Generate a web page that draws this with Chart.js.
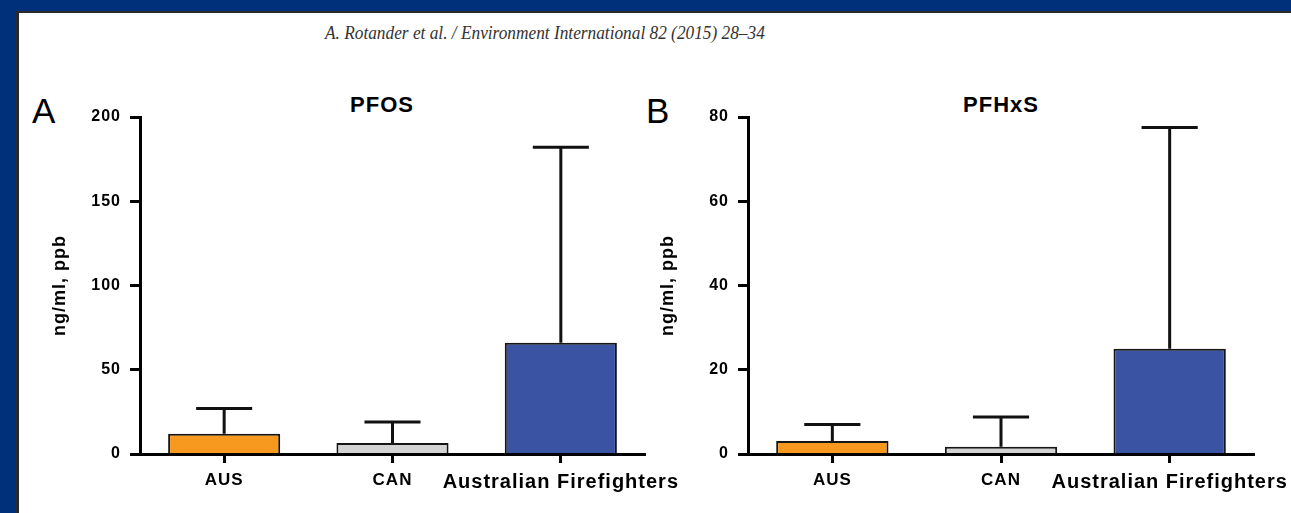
<!DOCTYPE html>
<html><head><meta charset="utf-8">
<script src="https://cdn.jsdelivr.net/npm/chart.js@4.4.1/dist/chart.umd.min.js"></script>
<style>
html,body{margin:0;padding:0;width:1291px;height:513px;overflow:hidden;background:#01307a;}
#panel{position:absolute;left:16px;top:11px;right:0;bottom:0;background:#fff;border-left:3px solid #2a2a2a;border-top:2px solid #2a2a2a;}
.hdr{position:absolute;left:325px;top:24px;font:italic 18px "Liberation Serif",serif;line-height:1;color:#333;white-space:nowrap;transform-origin:0 0;}
.lbl{position:absolute;font:35px "Liberation Sans",Arial,sans-serif;line-height:1;color:#000;}
.ttl{position:absolute;width:240px;text-align:center;font:bold 22px "Liberation Sans",Arial,sans-serif;letter-spacing:1px;line-height:1;color:#000;}
.box{position:absolute;}
</style></head><body>
<div id="panel"></div>
<div class="hdr" id="hdr">A. Rotander et al. / Environment International 82 (2015) 28–34</div>
<div class="lbl" style="left:32px;top:93px">A</div>
<div class="lbl" style="left:646px;top:93px">B</div>
<div class="ttl" style="left:262px;top:94px">PFOS</div>
<div class="ttl" style="left:881px;top:94px">PFHxS</div>
<div class="box" style="left:40px;top:80px;width:684px;height:433px"><canvas id="cA"></canvas></div>
<div class="box" style="left:648px;top:80px;width:706px;height:433px"><canvas id="cB"></canvas></div>
<script>
// ---- data ----
const categories = ['AUS', 'CAN', 'Australian Firefighters'];
const pfosMeans  = [12, 6.5, 66];
const pfosUpper  = [27, 19, 182];
const pfhxsMeans = [3.1, 1.7, 25];
const pfhxsUpper = [7, 8.8, 77.5];
const pfosTicks  = [0, 50, 100, 150, 200];
const pfhxsTicks = [0, 20, 40, 60, 80];
const barColors  = ['#F7991F', '#D3D3D3', '#3A53A3'];

// header width fit
const hdr = document.getElementById('hdr');
hdr.style.transform = 'scaleX(' + (440 / hdr.offsetWidth) + ')';

const F = "'Liberation Sans', Arial, sans-serif";

const spacing = {
  id: 'spacing',
  beforeUpdate(chart) { chart.ctx.letterSpacing = '1px'; },
  beforeDraw(chart) { chart.ctx.letterSpacing = '1px'; }
};

const errorBars = {
  id: 'errorBars',
  afterDatasetsDraw(chart, args, opts) {
    const ctx = chart.ctx, ys = chart.scales.y;
    const ds = chart.data.datasets[0];
    const meta = chart.getDatasetMeta(0);
    ctx.save();
    ctx.strokeStyle = '#111';
    ctx.lineWidth = 3;
    meta.data.forEach((bar, i) => {
      const x = bar.x;
      const yTop = ys.getPixelForValue(ds.data[i]);
      const yErr = ys.getPixelForValue(opts.upper[i]);
      const half = bar.width / 4;
      ctx.beginPath();
      ctx.moveTo(x, yTop); ctx.lineTo(x, yErr);
      ctx.moveTo(x - half, yErr); ctx.lineTo(x + half, yErr);
      ctx.stroke();
    });
    ctx.restore();
  }
};

function makeChart(id, means, upper, ticks, padRight) {
  return new Chart(document.getElementById(id), {
    type: 'bar',
    data: {
      labels: categories,
      datasets: [{
        data: means,
        backgroundColor: barColors,
        borderColor: '#151515',
        borderWidth: 2,
        barPercentage: 1,
        categoryPercentage: 0.666
      }]
    },
    options: {
      responsive: true,
      maintainAspectRatio: false,
      animation: false,
      layout: { padding: { left: 0, right: padRight, top: 37, bottom: 0 } },
      plugins: {
        legend: { display: false },
        tooltip: { enabled: false },
        title: { display: false },
        errorBars: { upper: upper }
      },
      scales: {
        x: {
          offset: true,
          grid: { display: true, offset: false, drawOnChartArea: false, drawTicks: true,
                  tickLength: 9, tickWidth: 3, tickColor: '#000' },
          border: { display: true, color: '#000', width: 3, z: 1 },
          ticks: {
            color: '#000', padding: 7, maxRotation: 0, autoSkip: false,
            font: (c) => ({ family: F, weight: 'bold', size: c.index === 2 ? 20 : 17 })
          },
          afterFit: (s) => { s.height = 59; }
        },
        y: {
          min: ticks[0], max: ticks[ticks.length - 1],
          afterBuildTicks: (s) => { s.ticks = ticks.map(v => ({ value: v })); },
          ticks: { color: '#000', padding: 9, font: { family: F, weight: 'bold', size: 16 } },
          grid: { drawOnChartArea: false, tickLength: 10, tickWidth: 3, tickColor: '#000' },
          border: { color: '#000', width: 3, z: 1 },
          title: {
            display: true, text: 'ng/ml, ppb', color: '#000',
            font: { family: F, weight: 'bold', size: 18 },
            padding: { top: 9, bottom: 0 }
          },
          afterFit: (s) => { s.width = 100; }
        }
      }
    },
    plugins: [spacing, errorBars]
  });
}

makeChart('cA', pfosMeans, pfosUpper, pfosTicks, 79);
makeChart('cB', pfhxsMeans, pfhxsUpper, pfhxsTicks, 100);
</script>
</body></html>
